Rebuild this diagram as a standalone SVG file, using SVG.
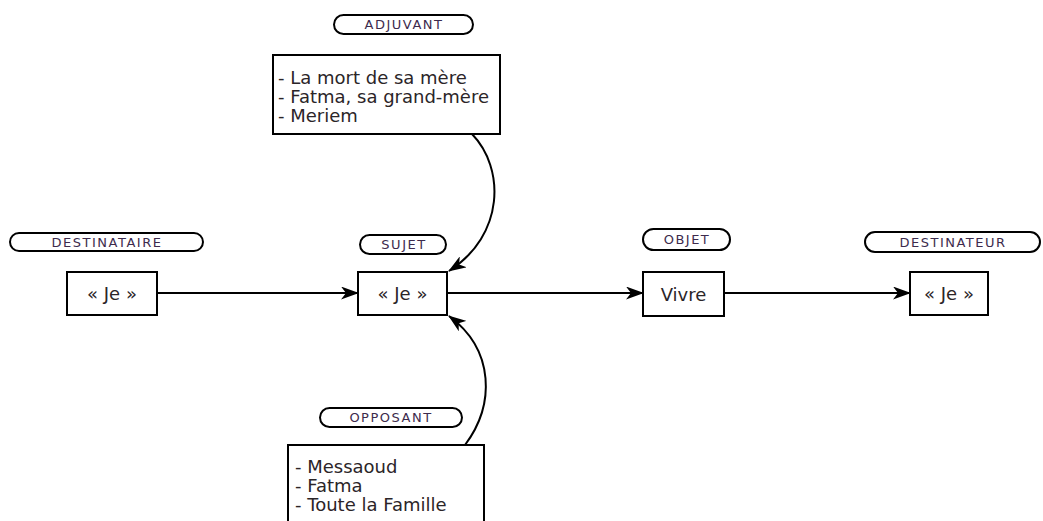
<svg xmlns="http://www.w3.org/2000/svg" width="1043" height="521" viewBox="0 0 1043 521">
<style>
.pill{fill:#fff;stroke:#000;stroke-width:2}
.box{fill:#fff;stroke:#000;stroke-width:2}
.lbl{font-family:"DejaVu Sans",Verdana,sans-serif;font-size:13px;letter-spacing:1.5px;fill:#3d2b4d;text-anchor:middle;dominant-baseline:central}
.txt{font-family:"DejaVu Sans",Verdana,sans-serif;font-size:18px;fill:#2b2528}
.ctr{text-anchor:middle;dominant-baseline:central}
.con{fill:none;stroke:#000;stroke-width:2}
</style>
<defs>
<marker id="ah" viewBox="0 0 18 13" refX="17" refY="6.5" markerWidth="18" markerHeight="13" markerUnits="userSpaceOnUse" orient="auto">
<path d="M0,0 L18,6.5 L0,13 L5,6.5 z" fill="#000"/>
</marker>
</defs>
<rect width="1043" height="521" fill="#fff"/>
<g id="adjuvant">
<rect class="pill" x="334" y="15" width="139" height="19" rx="9.5"/>
<text class="lbl" x="404" y="24.5">ADJUVANT</text>
<rect class="box" x="273" y="55" width="227" height="79"/>
<text class="txt" x="278" y="84">- La mort de sa mère</text>
<text class="txt" x="278" y="103">- Fatma, sa grand-mère</text>
<text class="txt" x="278" y="122">- Meriem</text>
</g>
<g id="destinataire">
<rect class="pill" x="10" y="233" width="193" height="18" rx="9"/>
<text class="lbl" x="107" y="242">DESTINATAIRE</text>
<rect class="box" x="67" y="272" width="90" height="43"/>
<text class="txt ctr" x="112" y="293.5">« Je »</text>
</g>
<g id="sujet">
<rect class="pill" x="360" y="235" width="86" height="19" rx="9.5"/>
<text class="lbl" x="404" y="244.5">SUJET</text>
<rect class="box" x="358" y="272" width="89" height="43"/>
<text class="txt ctr" x="402.5" y="293.5">« Je »</text>
</g>
<g id="objet">
<rect class="pill" x="643" y="229" width="87" height="21" rx="10.5"/>
<text class="lbl" x="687" y="239.5">OBJET</text>
<rect class="box" x="643" y="272" width="81" height="44"/>
<text class="txt ctr" x="683.5" y="294">Vivre</text>
</g>
<g id="destinateur">
<rect class="pill" x="865" y="232" width="175" height="20" rx="10"/>
<text class="lbl" x="953" y="242">DESTINATEUR</text>
<rect class="box" x="910" y="272" width="78" height="43"/>
<text class="txt ctr" x="949" y="293.5">« Je »</text>
</g>
<g id="opposant">
<rect class="pill" x="320" y="408" width="142" height="19" rx="9.5"/>
<text class="lbl" x="391" y="417.5">OPPOSANT</text>
<rect class="box" x="288" y="445" width="196" height="80"/>
<text class="txt" x="295" y="473">- Messaoud</text>
<text class="txt" x="295" y="492">- Fatma</text>
<text class="txt" x="295" y="511">- Toute la Famille</text>
</g>
<g id="connectors">
<path class="con" d="M157,293 L358,293" marker-end="url(#ah)"/>
<path class="con" d="M447,293 L643,293" marker-end="url(#ah)"/>
<path class="con" d="M724,293 L910,293" marker-end="url(#ah)"/>
<path class="con" d="M472,134 C505,168 505,235 449,271" marker-end="url(#ah)"/>
<path class="con" d="M465,445 C495,405 495,350 449,316" marker-end="url(#ah)"/>
</g>
</svg>
